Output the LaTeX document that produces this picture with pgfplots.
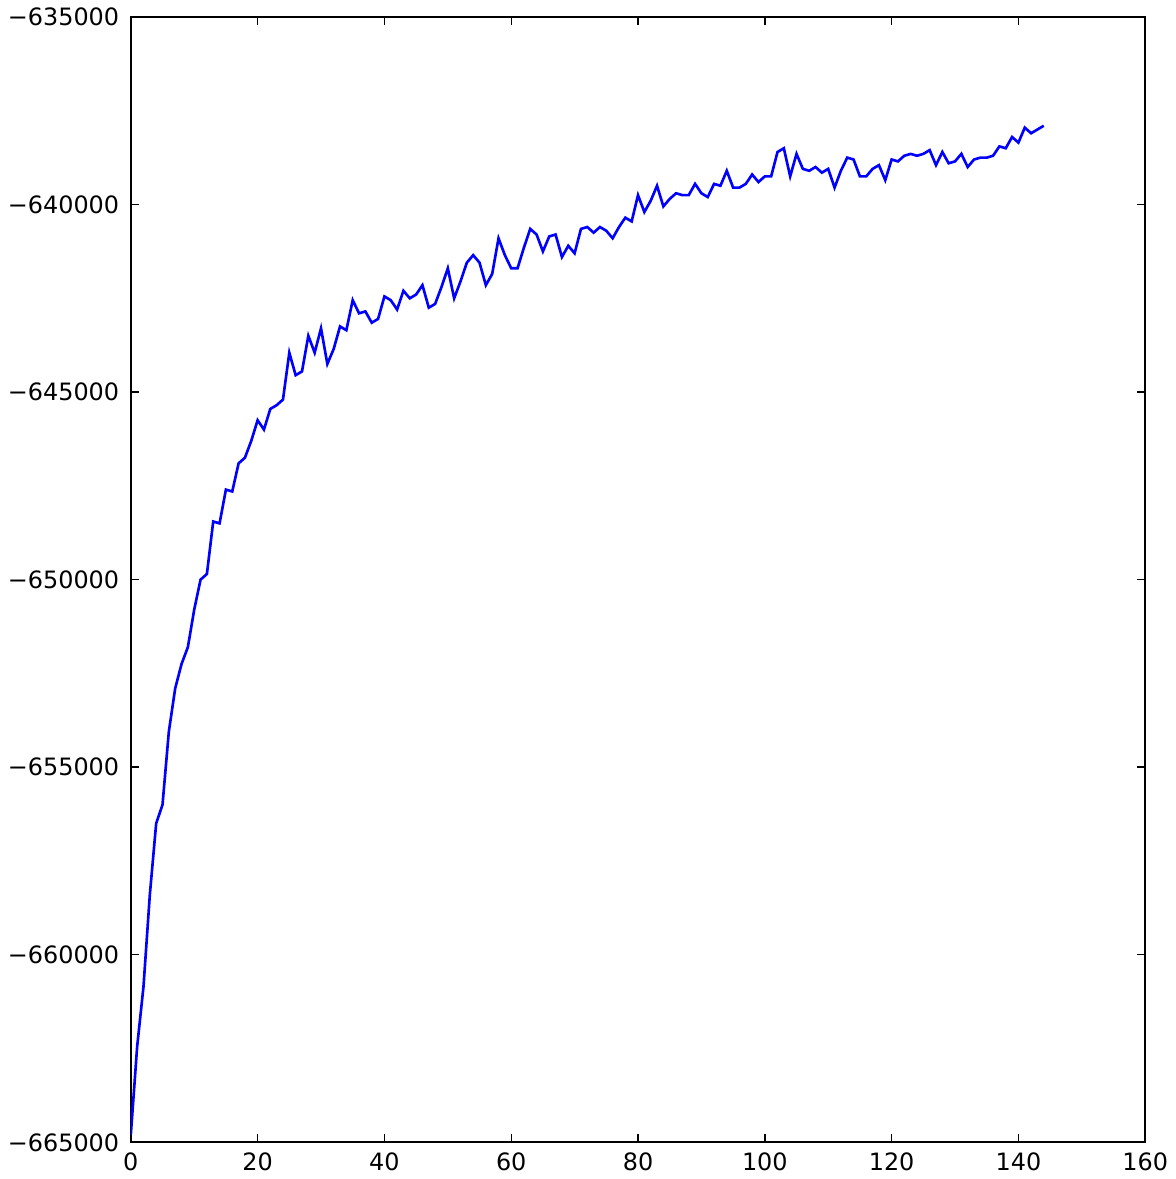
\documentclass[border=0pt]{standalone}
\usepackage{fontspec}
\setmainfont{DejaVu Sans}
\usepackage{pgfplots}
\pgfplotsset{compat=1.18}
\begin{document}
\fontsize{6.8}{8}\selectfont
\begin{tikzpicture}
\begin{axis}[
  scale only axis,
  width=10.15cm, height=11.26cm,
  xmin=0, xmax=160, ymin=-665000, ymax=-635000,
  xtick={0,20,...,160},
  ytick={-665000,-660000,-655000,-650000,-645000,-640000,-635000},
  yticklabels={−665000,−660000,−655000,−650000,−645000,−640000,−635000},
  scaled ticks=false,
  /pgf/number format/assume math mode=true,
  tick align=inside,
  major tick length=0.8mm,
  tick style={black, line width=0.4pt},
  axis line style={black, line width=0.6pt},
  tick label style={font=\fontsize{6.8}{8}\selectfont},
  xticklabel style={yshift=-0.2mm},
  yticklabel style={xshift=-0.3mm},
]
\addplot[color={rgb,1:red,0;green,0;blue,1}, line width=0.75pt, mark=none] coordinates {
(0,-664800) (1,-662450) (2,-660850) (3,-658400) (4,-656500) (5,-656000)
(6,-654050) (7,-652900) (8,-652250) (9,-651800) (10,-650800) (11,-650000)
(12,-649850) (13,-648450) (14,-648500) (15,-647600) (16,-647650) (17,-646900)
(18,-646750) (19,-646300) (20,-645750) (21,-646000) (22,-645450) (23,-645350)
(24,-645200) (25,-643950) (26,-644550) (27,-644450) (28,-643500) (29,-643950)
(30,-643300) (31,-644250) (32,-643850) (33,-643250) (34,-643350) (35,-642550)
(36,-642900) (37,-642850) (38,-643150) (39,-643050) (40,-642450) (41,-642550)
(42,-642800) (43,-642300) (44,-642500) (45,-642400) (46,-642150) (47,-642750)
(48,-642650) (49,-642200) (50,-641700) (51,-642500) (52,-642050) (53,-641550)
(54,-641350) (55,-641550) (56,-642150) (57,-641850) (58,-640900) (59,-641350)
(60,-641700) (61,-641700) (62,-641150) (63,-640650) (64,-640800) (65,-641250)
(66,-640850) (67,-640800) (68,-641400) (69,-641100) (70,-641300) (71,-640650)
(72,-640600) (73,-640750) (74,-640600) (75,-640700) (76,-640900) (77,-640600)
(78,-640350) (79,-640450) (80,-639750) (81,-640200) (82,-639900) (83,-639500)
(84,-640050) (85,-639850) (86,-639700) (87,-639750) (88,-639750) (89,-639450)
(90,-639700) (91,-639800) (92,-639450) (93,-639500) (94,-639100) (95,-639550)
(96,-639550) (97,-639450) (98,-639200) (99,-639400) (100,-639250) (101,-639250)
(102,-638600) (103,-638500) (104,-639250) (105,-638650) (106,-639050) (107,-639100)
(108,-639000) (109,-639150) (110,-639050) (111,-639550) (112,-639100) (113,-638750)
(114,-638800) (115,-639250) (116,-639250) (117,-639050) (118,-638950) (119,-639350)
(120,-638800) (121,-638850) (122,-638700) (123,-638650) (124,-638700) (125,-638650)
(126,-638550) (127,-638950) (128,-638600) (129,-638900) (130,-638850) (131,-638650)
(132,-639000) (133,-638800) (134,-638750) (135,-638750) (136,-638700) (137,-638450)
(138,-638500) (139,-638200) (140,-638350) (141,-637950) (142,-638100) (143,-638000)
(144,-637900)
};
\end{axis}
\end{tikzpicture}
\end{document}
